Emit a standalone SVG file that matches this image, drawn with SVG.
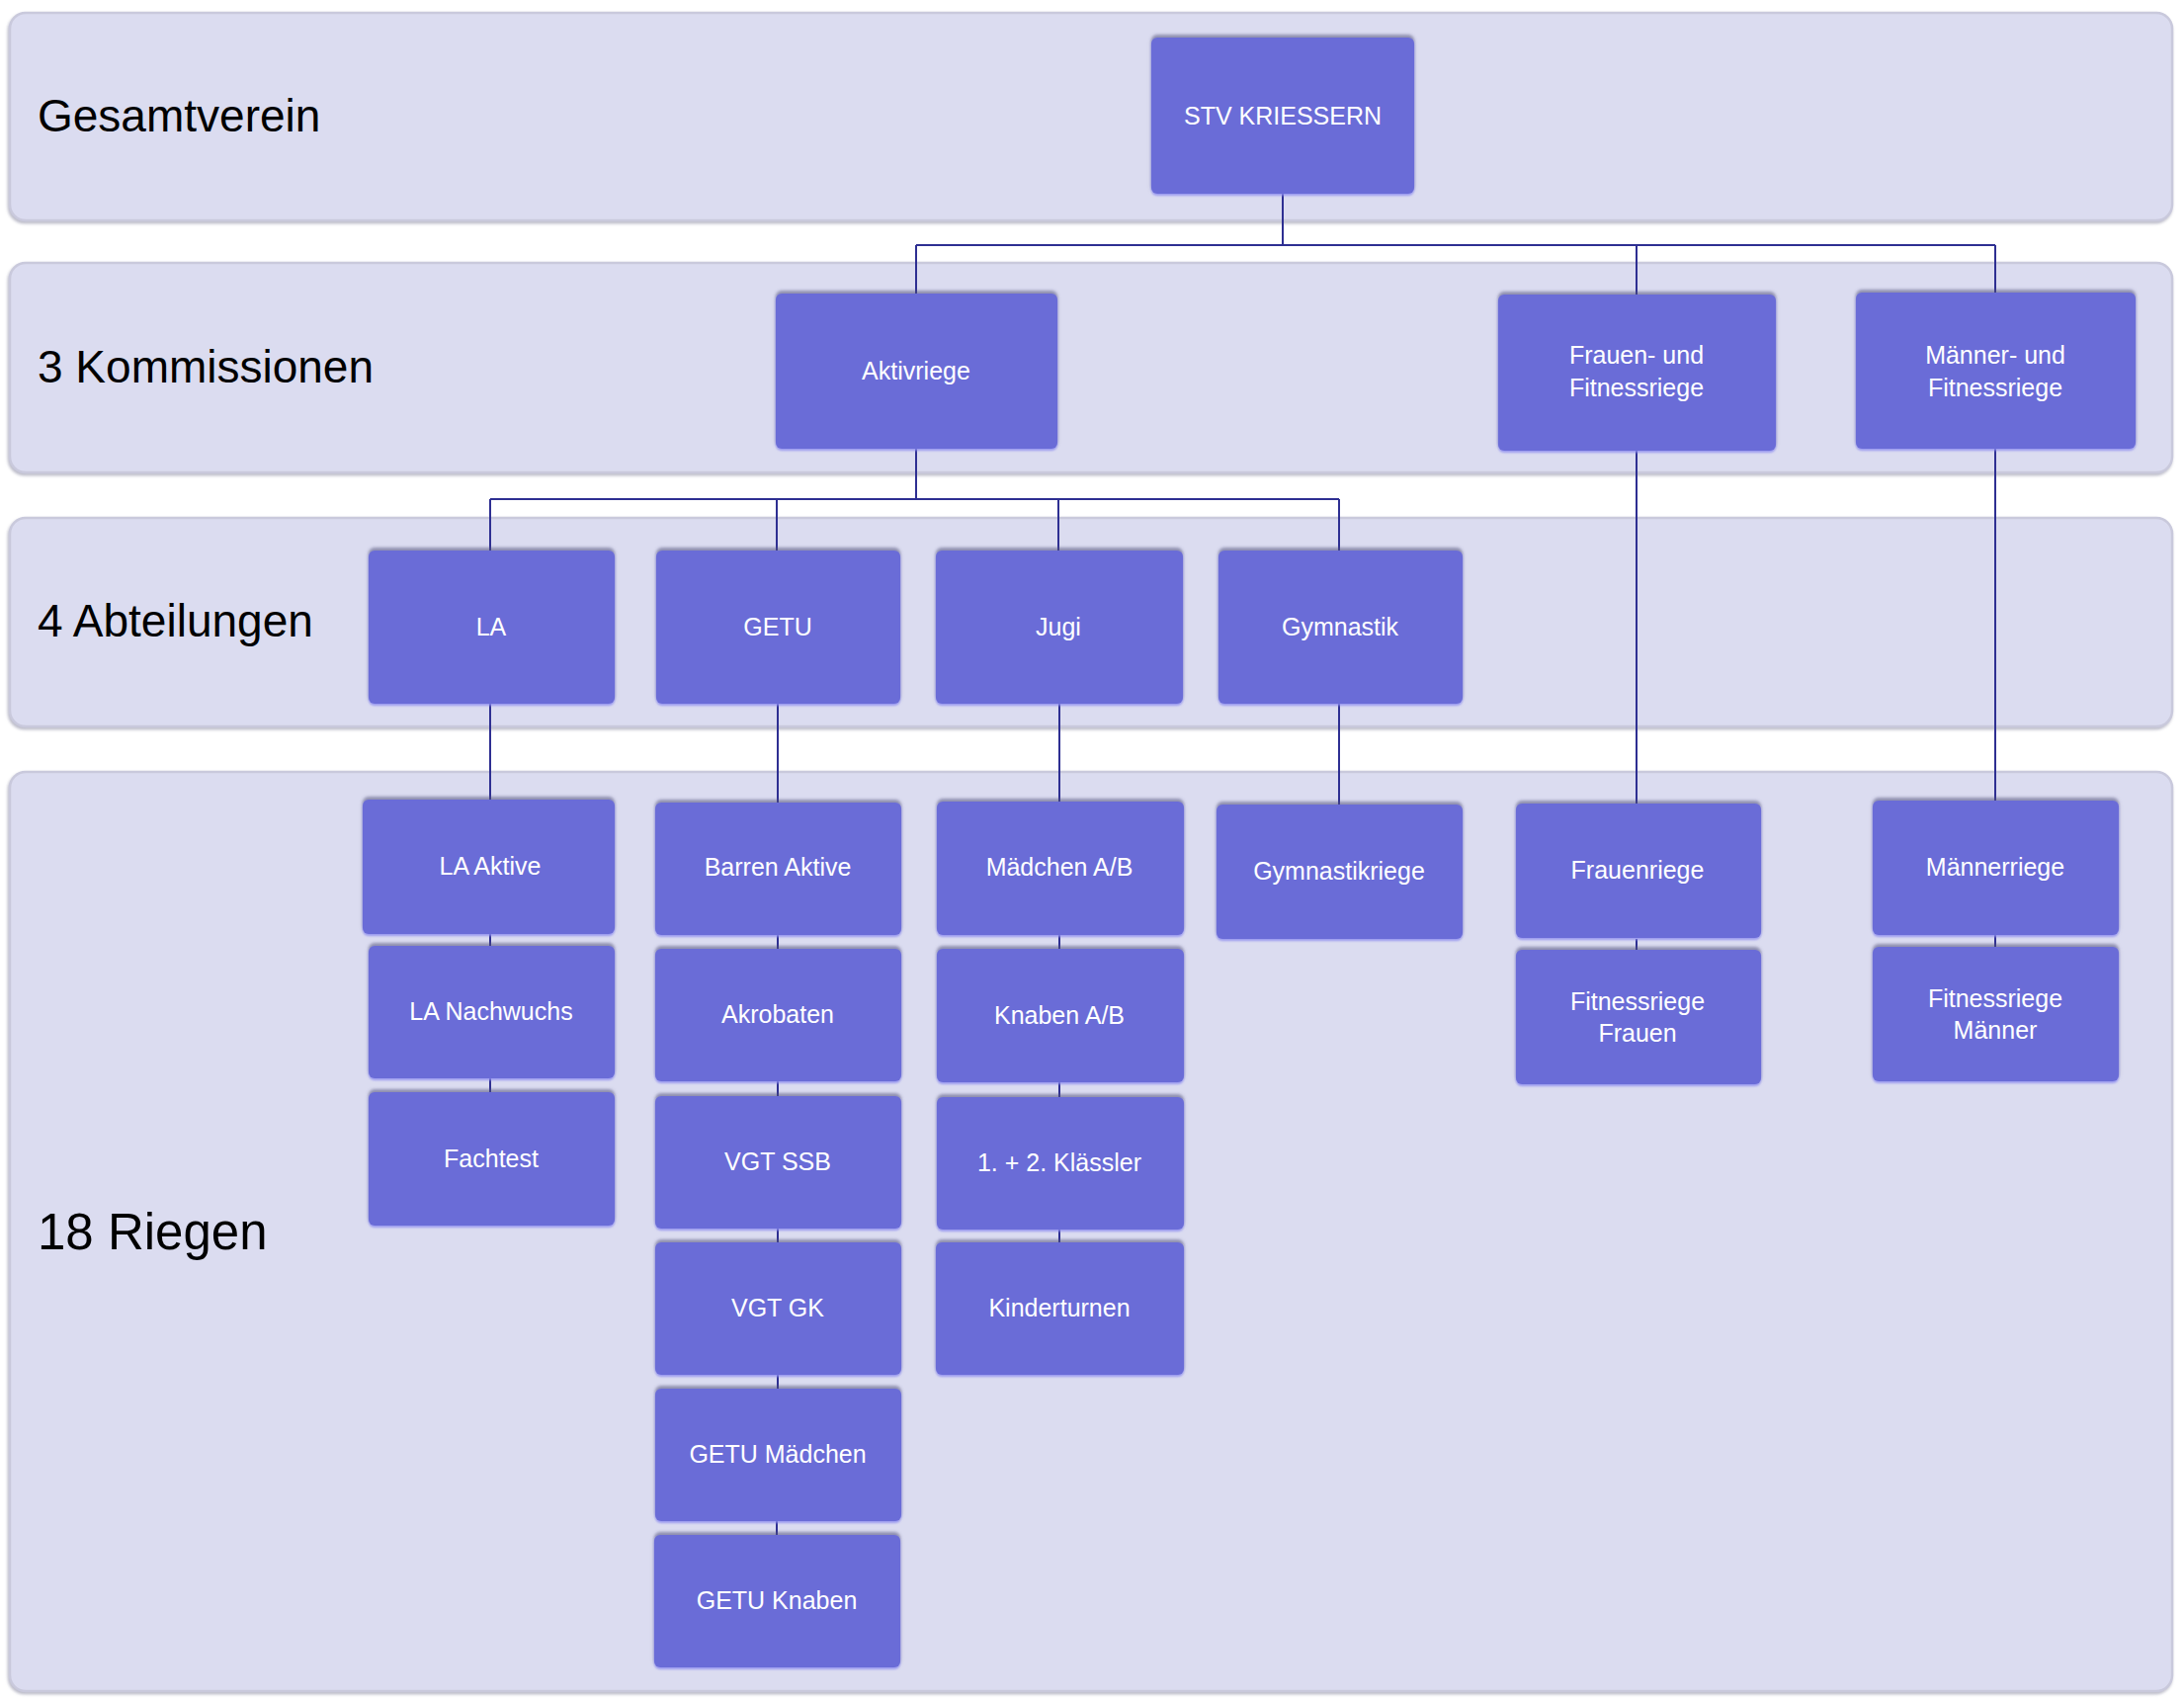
<svg xmlns="http://www.w3.org/2000/svg" width="2210" height="1718" viewBox="0 0 2210 1718">
<style>
.band{fill:#DBDCF0;stroke:#C9C9DC;stroke-width:2.5;filter:url(#bs)}
.bl{font-family:"Liberation Sans",Arial,sans-serif;font-size:46px;fill:#000}
.node rect{fill:#6B6CD7;filter:url(#ns)}
.node text{font-family:"Liberation Sans",Arial,sans-serif;font-size:25px;fill:#FFFFFF;text-anchor:middle}
.con path{fill:none;stroke:#2E2F92;stroke-width:2}
</style>
<defs>
<filter id="bs" x="-2%" y="-5%" width="104%" height="112%">
<feDropShadow dx="-1" dy="2" stdDeviation="1.5" flood-color="#9A9AAE" flood-opacity="0.7"/>
</filter>
<filter id="ns" x="-10%" y="-10%" width="120%" height="120%">
<feDropShadow dx="0" dy="2" stdDeviation="1.2" flood-color="#8C8CF2" flood-opacity="0.8"/>
<feDropShadow dx="0" dy="-3" stdDeviation="1.5" flood-color="#50507A" flood-opacity="0.55"/>
</filter>
</defs>
<rect width="2210" height="1718" fill="#FFFFFF"/>
<g id="bands">
<rect class="band" x="10" y="13" width="2188" height="210" rx="16"/>
<rect class="band" x="10" y="266" width="2188" height="212" rx="16"/>
<rect class="band" x="10" y="524" width="2188" height="211" rx="16"/>
<rect class="band" x="10" y="781" width="2188" height="930" rx="16"/>
<text class="bl" x="38" y="133">Gesamtverein</text>
<text class="bl" x="38" y="387">3 Kommissionen</text>
<text class="bl" x="38" y="644">4 Abteilungen</text>
<text class="bl" x="38" y="1264" style="font-size:51px">18 Riegen</text>
</g>
<g id="connectors" class="con">
<path d="M1298 196V248"/>
<path d="M927 248H2019"/>
<path d="M927 248V297"/>
<path d="M1656 248V298"/>
<path d="M2019 248V296"/>
<path d="M927 454V505"/>
<path d="M496 505H1355"/>
<path d="M496 505V557"/>
<path d="M786 505V557"/>
<path d="M1071 505V557"/>
<path d="M1355 505V557"/>
<path d="M496 712V809"/>
<path d="M496 945V957"/>
<path d="M496 1091V1105"/>
<path d="M787 712V812"/>
<path d="M787 946V960"/>
<path d="M787 1094V1109"/>
<path d="M787 1243V1257"/>
<path d="M787 1391V1405"/>
<path d="M786 1539V1553"/>
<path d="M1072 712V811"/>
<path d="M1072 946V960"/>
<path d="M1072 1095V1110"/>
<path d="M1072 1244V1257"/>
<path d="M1355 712V814"/>
<path d="M1656 456V813"/>
<path d="M1656 950V961"/>
<path d="M2019 454V810"/>
<path d="M2019 946V958"/>
</g>
<g id="n-stv" class="node"><rect x="1165" y="38" width="266" height="158" rx="6"/><text x="1298" y="126">STV KRIESSERN</text></g>
<g id="n-aktivriege" class="node"><rect x="785" y="297" width="285" height="157" rx="6"/><text x="927" y="384">Aktivriege</text></g>
<g id="n-frauen-fit" class="node"><rect x="1516" y="298" width="281" height="158" rx="6"/><text x="1656" y="368">Frauen- und</text><text x="1656" y="401">Fitnessriege</text></g>
<g id="n-maenner-fit" class="node"><rect x="1878" y="296" width="283" height="158" rx="6"/><text x="2019" y="368">Männer- und</text><text x="2019" y="401">Fitnessriege</text></g>
<g id="n-la" class="node"><rect x="373" y="557" width="249" height="155" rx="6"/><text x="497" y="643">LA</text></g>
<g id="n-getu" class="node"><rect x="664" y="557" width="247" height="155" rx="6"/><text x="787" y="643">GETU</text></g>
<g id="n-jugi" class="node"><rect x="947" y="557" width="250" height="155" rx="6"/><text x="1071" y="643">Jugi</text></g>
<g id="n-gymnastik" class="node"><rect x="1233" y="557" width="247" height="155" rx="6"/><text x="1356" y="643">Gymnastik</text></g>
<g id="n-la-aktive" class="node"><rect x="367" y="809" width="255" height="136" rx="6"/><text x="496" y="885">LA Aktive</text></g>
<g id="n-la-nachwuchs" class="node"><rect x="373" y="957" width="249" height="134" rx="6"/><text x="497" y="1032">LA Nachwuchs</text></g>
<g id="n-fachtest" class="node"><rect x="373" y="1105" width="249" height="135" rx="6"/><text x="497" y="1181">Fachtest</text></g>
<g id="n-barren" class="node"><rect x="663" y="812" width="249" height="134" rx="6"/><text x="787" y="886">Barren Aktive</text></g>
<g id="n-akrobaten" class="node"><rect x="663" y="960" width="249" height="134" rx="6"/><text x="787" y="1035">Akrobaten</text></g>
<g id="n-vgt-ssb" class="node"><rect x="663" y="1109" width="249" height="134" rx="6"/><text x="787" y="1184">VGT SSB</text></g>
<g id="n-vgt-gk" class="node"><rect x="663" y="1257" width="249" height="134" rx="6"/><text x="787" y="1332">VGT GK</text></g>
<g id="n-getu-maedchen" class="node"><rect x="663" y="1405" width="249" height="134" rx="6"/><text x="787" y="1480">GETU Mädchen</text></g>
<g id="n-getu-knaben" class="node"><rect x="662" y="1553" width="249" height="134" rx="6"/><text x="786" y="1628">GETU Knaben</text></g>
<g id="n-maedchen-ab" class="node"><rect x="948" y="811" width="250" height="135" rx="6"/><text x="1072" y="886">Mädchen A/B</text></g>
<g id="n-knaben-ab" class="node"><rect x="948" y="960" width="250" height="135" rx="6"/><text x="1072" y="1036">Knaben A/B</text></g>
<g id="n-klaessler" class="node"><rect x="948" y="1110" width="250" height="134" rx="6"/><text x="1072" y="1185">1. + 2. Klässler</text></g>
<g id="n-kinderturnen" class="node"><rect x="947" y="1257" width="251" height="134" rx="6"/><text x="1072" y="1332">Kinderturnen</text></g>
<g id="n-gymnastikriege" class="node"><rect x="1231" y="814" width="249" height="136" rx="6"/><text x="1355" y="890">Gymnastikriege</text></g>
<g id="n-frauenriege" class="node"><rect x="1534" y="813" width="248" height="136" rx="6"/><text x="1657" y="889">Frauenriege</text></g>
<g id="n-fit-frauen" class="node"><rect x="1534" y="961" width="248" height="136" rx="6"/><text x="1657" y="1022">Fitnessriege</text><text x="1657" y="1054">Frauen</text></g>
<g id="n-maennerriege" class="node"><rect x="1895" y="810" width="249" height="136" rx="6"/><text x="2019" y="886">Männerriege</text></g>
<g id="n-fit-maenner" class="node"><rect x="1895" y="958" width="249" height="136" rx="6"/><text x="2019" y="1019">Fitnessriege</text><text x="2019" y="1051">Männer</text></g>
</svg>
